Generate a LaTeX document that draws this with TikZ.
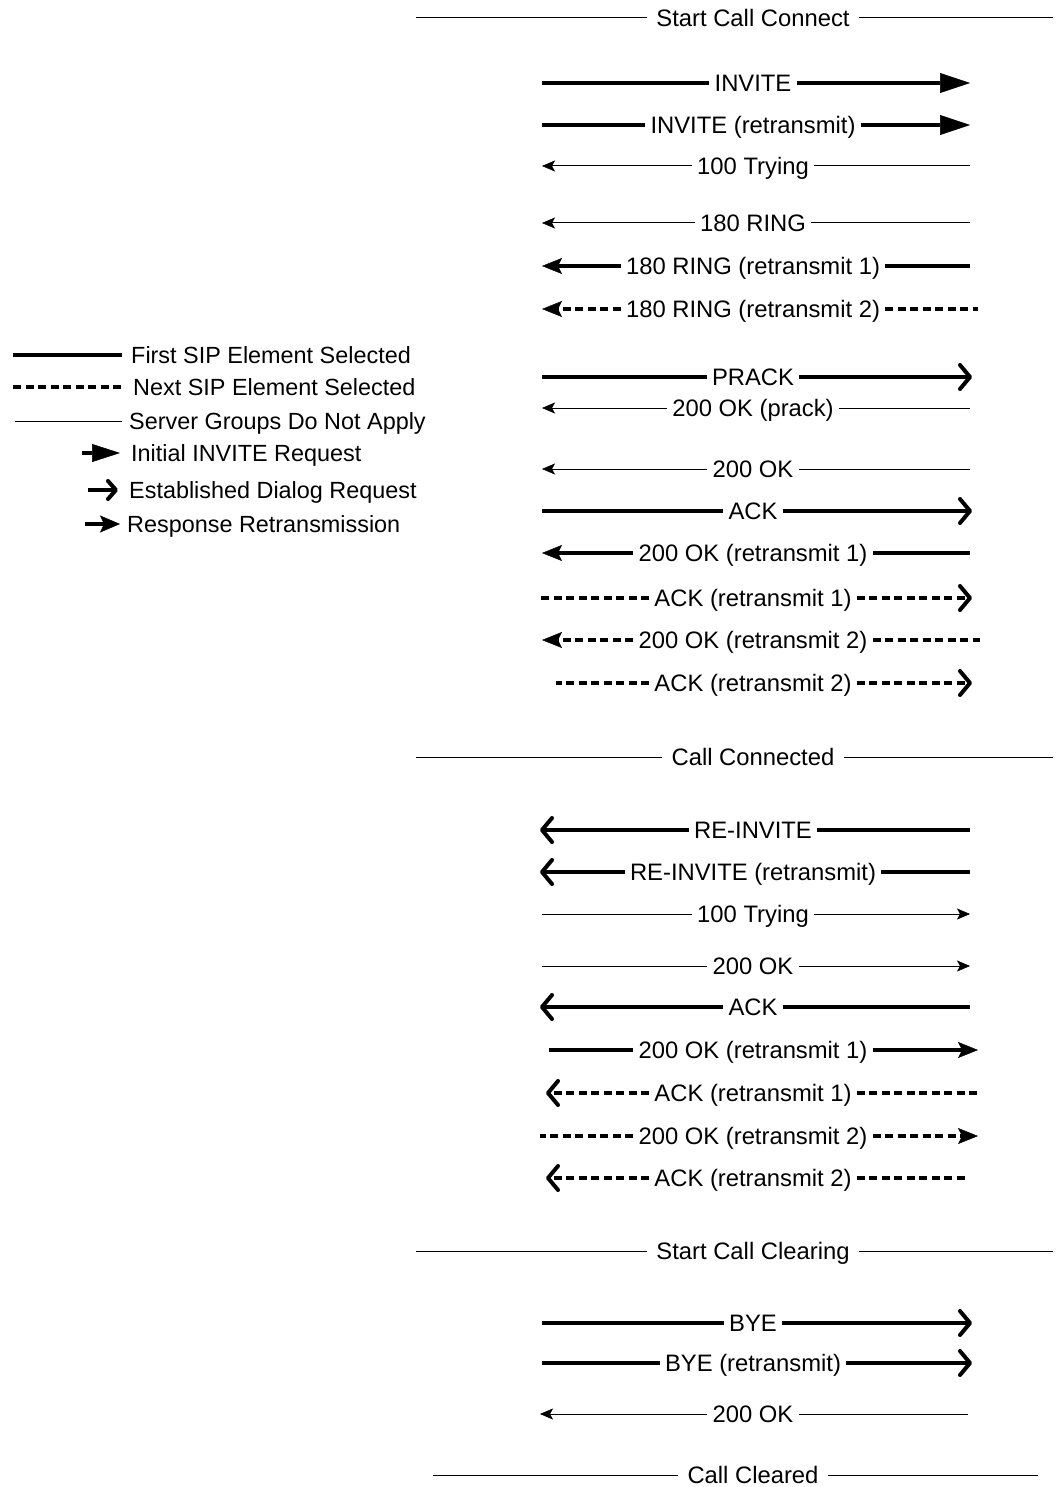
\documentclass[tikz,border=0pt]{standalone}
\usepackage{fontspec}
\setmainfont{Liberation Sans}
\usetikzlibrary{arrows.meta}
\tikzset{
  thk/.style={line width=4pt},
  thn/.style={line width=1pt},
  dsh/.style={line width=4pt, dash pattern=on 8pt off 4.5pt},
  tipinv/.style={-{Triangle[length=30pt,width=20pt,line width=0.5pt]}},
  tiprtx/.style={-{Stealth[length=20pt,width=16pt,inset=4pt,line width=0.5pt]}},
  tipdlg/.style={-{Straight Barb[length=10pt,width=24pt,round]}},
  tipthin/.style={-{Stealth[length=13pt,width=11pt,inset=3pt,line width=0.5pt]}},
  lbl/.style={font=\fontsize{23.8}{28}\selectfont, inner xsep=5pt, inner ysep=0pt,
              text height=17pt, text depth=0pt},
  hdg/.style={lbl, inner xsep=9pt},
  lgtext/.style={font=\fontsize{23.4}{28}\selectfont, anchor=west, inner sep=0pt,
              text height=17pt, text depth=0pt}
}
\newcommand\sipmsg[7]{%
  \coordinate (#1l) at (#3,#2);
  \coordinate (#1r) at (#4,#2);
  \node[lbl] (#1) at (753,#2) {#7};
  \draw[#5] (#1.west) -- (#1l);
  \draw[#6] (#1.east) -- (#1r);
}
\newcommand\siphead[5]{%
  \coordinate (#1l) at (#3,#2);
  \coordinate (#1r) at (#4,#2);
  \node[hdg] (#1) at (753,#2) {#5};
  \draw[thn] (#1.west) -- (#1l);
  \draw[thn] (#1.east) -- (#1r);
}
\begin{document}
\begin{tikzpicture}[x=1pt,y=-1pt]
\path[fill=white,use as bounding box] (0,0) rectangle (1057,1487);

% legend
\coordinate (g1a) at (13,355);  \coordinate (g1b) at (122,355);
\node[lgtext] (g1) at (131,355) {First SIP Element Selected};
\draw[thk] (g1a) -- (g1b);
\coordinate (g2a) at (13,387);  \coordinate (g2b) at (122,387);
\node[lgtext] (g2) at (133,387) {Next SIP Element Selected};
\draw[dsh] (g2a) -- (g2b);
\coordinate (g3a) at (15,421);  \coordinate (g3b) at (122,421);
\node[lgtext] (g3) at (129,421) {Server Groups Do Not Apply};
\draw[thn] (g3a) -- (g3b);
\coordinate (g4a) at (82,453);  \coordinate (g4b) at (120,453);
\node[lgtext] (g4) at (131,453) {Initial INVITE Request};
\draw[thk,-{Triangle[length=28pt,width=18pt,line width=0.5pt]}] (g4a) -- (g4b);
\coordinate (g5a) at (88,490);  \coordinate (g5b) at (118,490);
\node[lgtext] (g5) at (129,490) {Established Dialog Request};
\draw[thk,-{Straight Barb[length=8pt,width=18pt,round]}] (g5a) -- (g5b);
\coordinate (g6a) at (85,524);  \coordinate (g6b) at (120,524);
\node[lgtext] (g6) at (127,524) {Response Retransmission};
\draw[thk,-{Stealth[length=20pt,width=17pt,inset=4pt,line width=0.5pt]}] (g6a) -- (g6b);

% call connect
\siphead{h1}{18}{416}{1053}{Start Call Connect}
\sipmsg{a1}{83}{542}{970}{thk}{thk,tipinv}{INVITE}
\sipmsg{a2}{125}{542}{970}{thk}{thk,tipinv}{INVITE (retransmit)}
\sipmsg{a3}{166}{542}{970}{thn,tipthin}{thn}{100 Trying}
\sipmsg{a4}{223}{542}{970}{thn,tipthin}{thn}{180 RING}
\sipmsg{a5}{266}{542}{970}{thk,tiprtx}{thk}{180 RING (retransmit 1)}
\sipmsg{a6}{309}{542}{978}{dsh,tiprtx}{dsh}{180 RING (retransmit 2)}
\sipmsg{a7}{377}{542}{972}{thk}{thk,tipdlg}{PRACK}
\sipmsg{a8}{408}{542}{970}{thn,tipthin}{thn}{200 OK (prack)}
\sipmsg{a9}{469}{542}{970}{thn,tipthin}{thn}{200 OK}
\sipmsg{a10}{511}{542}{972}{thk}{thk,tipdlg}{ACK}
\sipmsg{a11}{553}{542}{970}{thk,tiprtx}{thk}{200 OK (retransmit 1)}
\sipmsg{a12}{598}{540}{972}{dsh}{dsh,tipdlg}{ACK (retransmit 1)}
\sipmsg{a13}{640}{542}{980}{dsh,tiprtx}{dsh}{200 OK (retransmit 2)}
\sipmsg{a14}{683}{556}{972}{dsh}{dsh,tipdlg}{ACK (retransmit 2)}

% call connected
\siphead{h2}{757}{416}{1053}{Call Connected}
\sipmsg{b1}{830}{540}{970}{thk,tipdlg}{thk}{RE-INVITE}
\sipmsg{b2}{872}{540}{970}{thk,tipdlg}{thk}{RE-INVITE (retransmit)}
\sipmsg{b3}{914}{542}{970}{thn}{thn,tipthin}{100 Trying}
\sipmsg{b4}{966}{542}{970}{thn}{thn,tipthin}{200 OK}
\sipmsg{b5}{1007}{540}{970}{thk,tipdlg}{thk}{ACK}
\sipmsg{b6}{1050}{549}{978}{thk}{thk,tiprtx}{200 OK (retransmit 1)}
\sipmsg{b7}{1093}{546}{980}{dsh,tipdlg}{dsh}{ACK (retransmit 1)}
\sipmsg{b8}{1136}{540}{978}{dsh}{dsh,tiprtx}{200 OK (retransmit 2)}
\sipmsg{b9}{1178}{546}{965}{dsh,tipdlg}{dsh}{ACK (retransmit 2)}

% call clearing
\siphead{h3}{1251}{416}{1053}{Start Call Clearing}
\sipmsg{c1}{1323}{542}{972}{thk}{thk,tipdlg}{BYE}
\sipmsg{c2}{1363}{542}{972}{thk}{thk,tipdlg}{BYE (retransmit)}
\sipmsg{c3}{1414}{540}{968}{thn,tipthin}{thn}{200 OK}
\siphead{h4}{1475}{433}{1038}{Call Cleared}
\end{tikzpicture}
\end{document}
